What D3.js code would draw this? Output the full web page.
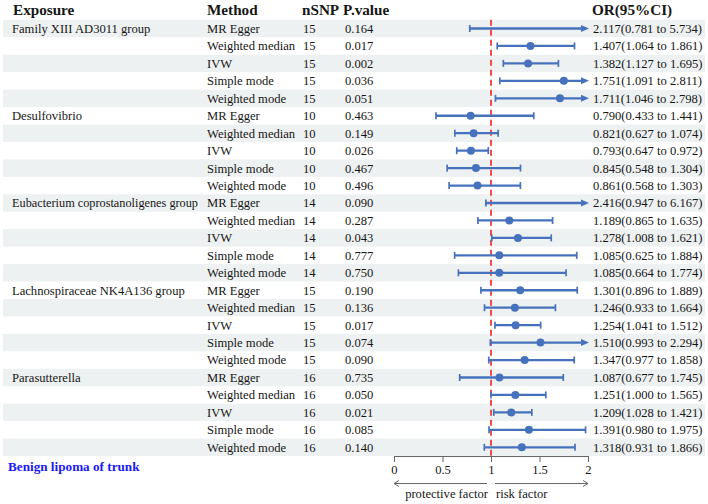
<!DOCTYPE html>
<html><head><meta charset="utf-8">
<script src="https://cdn.jsdelivr.net/npm/d3@7/dist/d3.min.js"></script>
<style>
html,body{margin:0;padding:0;background:#fff;}
svg{display:block;}
text{font-family:"Liberation Serif","Times New Roman",serif;}
</style></head>
<body>
<svg id="chart" width="708" height="504"></svg>
<script>
const exposures = ["Family XIII AD3011 group","Desulfovibrio","Eubacterium coprostanoligenes group","Lachnospiraceae NK4A136 group","Parasutterella"];
const methods = ["MR Egger","Weighted median","IVW","Simple mode","Weighted mode"];
const nsnp = [15,10,14,15,16];
const pvalues = ["0.164","0.017","0.002","0.036","0.051",
                 "0.463","0.149","0.026","0.467","0.496",
                 "0.090","0.287","0.043","0.777","0.750",
                 "0.190","0.136","0.017","0.074","0.090",
                 "0.735","0.050","0.021","0.085","0.140"];
const orVals = [2.117,1.407,1.382,1.751,1.711,
                0.790,0.821,0.793,0.845,0.861,
                2.416,1.189,1.278,1.085,1.085,
                1.301,1.246,1.254,1.510,1.347,
                1.087,1.251,1.209,1.391,1.318];
const lowerVals = [0.781,1.064,1.127,1.091,1.046,
                   0.433,0.627,0.647,0.548,0.568,
                   0.947,0.865,1.008,0.625,0.664,
                   0.896,0.933,1.041,0.993,0.977,
                   0.677,1.000,1.028,0.980,0.931];
const upperVals = [5.734,1.861,1.695,2.811,2.798,
                   1.441,1.074,0.972,1.304,1.303,
                   6.167,1.635,1.621,1.884,1.774,
                   1.889,1.664,1.512,2.294,1.858,
                   1.745,1.565,1.421,1.975,1.866];
const axisTicks = [0,0.5,1,1.5,2];
const headers = ["Exposure","Method","nSNP","P.value","OR(95%CI)"];
const outcome = "Benign lipoma of trunk";

const rows = orVals.map((v,i)=>({
  exposure: i%5===0 ? exposures[Math.floor(i/5)] : "",
  method: methods[i%5],
  n: nsnp[Math.floor(i/5)],
  p: pvalues[i],
  or: v, lo: lowerVals[i], hi: upperVals[i]
}));

const svg = d3.select("#chart");
const rowH = 17.45, row0 = 28.5;
const y = i => row0 + i*rowH;
const x = d3.scaleLinear().domain([0,2]).range([394,588]);
const blue = "#4672bd";
const fs = "12.6px";
const ink = "#161616";

// shading
svg.selectAll("rect.band").data(rows.filter((d,i)=>i%2===0)).enter()
  .append("rect").attr("x",3).attr("width",702)
  .attr("y",(d,k)=>y(k*2)-rowH/2).attr("height",rowH)
  .attr("fill","#eef1f1");

// headers
const hx = [13,207,302,343,592];
svg.selectAll("text.hdr").data(headers).enter().append("text")
  .attr("x",(d,i)=>hx[i]).attr("y",15).attr("font-size","15.2px")
  .attr("font-weight","bold").attr("fill",ink)
  .text(d=>d);

// text columns
const g = svg.append("g").attr("font-size",fs).attr("fill",ink);
rows.forEach((d,i)=>{
  const by = y(i)+4.4;
  const ex = g.append("text").attr("x",12).attr("y",by).text(d.exposure);
  if(d.exposure.length>32) ex.attr("textLength",186).attr("lengthAdjust","spacingAndGlyphs");
  g.append("text").attr("x",207).attr("y",by).text(d.method);
  g.append("text").attr("x",303).attr("y",by).text(d.n);
  g.append("text").attr("x",345).attr("y",by).text(d.p);
  g.append("text").attr("x",593).attr("y",by)
    .text(`${d.or.toFixed(3)}(${d.lo.toFixed(3)} to ${d.hi.toFixed(3)})`);
});

// reference line
svg.append("line").attr("x1",x(1)).attr("x2",x(1))
  .attr("y1",y(0)-rowH/2).attr("y2",y(rows.length-1)+rowH/2)
  .attr("stroke","#f03a3a").attr("stroke-width",1.8).attr("stroke-dasharray","6,4");

// CI bars
const bars = svg.append("g");
rows.forEach((d,i)=>{
  const cy = y(i);
  const x1 = x(Math.max(d.lo,0)), over = d.hi>2;
  const x2 = over ? x(2)-6 : x(d.hi);
  bars.append("line").attr("x1",x1).attr("x2",x2).attr("y1",cy).attr("y2",cy)
    .attr("stroke",blue).attr("stroke-width",2.3);
  bars.append("line").attr("x1",x1).attr("x2",x1).attr("y1",cy-3.5).attr("y2",cy+3.5)
    .attr("stroke",blue).attr("stroke-width",1.7);
  if(over){
    const tx = x(2)+1;
    bars.append("path").attr("d",`M${tx},${cy} L${tx-8},${cy-3.5} L${tx-8},${cy+3.5} Z`)
      .attr("fill",blue);
  } else {
    bars.append("line").attr("x1",x2).attr("x2",x2).attr("y1",cy-3.5).attr("y2",cy+3.5)
      .attr("stroke",blue).attr("stroke-width",1.7);
  }
  if(d.or<=2){
    bars.append("circle").attr("cx",x(d.or)).attr("cy",cy).attr("r",4).attr("fill",blue);
  }
});

// axis
const axisY = y(rows.length-1)+rowH/2;
const ax = svg.append("g").attr("transform",`translate(0,${axisY})`)
  .call(d3.axisBottom(x).tickValues(axisTicks).tickFormat(d3.format("")).tickSize(6).tickSizeOuter(0).tickPadding(3));
ax.selectAll("path,line").attr("stroke","#666");
ax.selectAll("text").attr("font-size",fs).attr("fill",ink)
  .attr("font-family","Liberation Serif, Times New Roman, serif");

// direction arrows
const ay = 483.5;
const arr = svg.append("g").attr("stroke","#666").attr("fill","none").attr("stroke-width",1);
arr.append("line").attr("x1",x(0)).attr("x2",x(1)-4).attr("y1",ay).attr("y2",ay);
arr.append("path").attr("d",`M${x(0)+5},${ay-3} L${x(0)},${ay} L${x(0)+5},${ay+3}`);
arr.append("line").attr("x1",x(1)+4).attr("x2",x(2)).attr("y1",ay).attr("y2",ay);
arr.append("path").attr("d",`M${x(2)-5},${ay-3} L${x(2)},${ay} L${x(2)-5},${ay+3}`);
svg.append("text").attr("x",x(1)-3).attr("y",497.5).attr("text-anchor","end")
  .attr("font-size",fs).attr("fill",ink).text("protective factor");
svg.append("text").attr("x",x(1)+5).attr("y",497.5)
  .attr("font-size",fs).attr("fill",ink).text("risk factor");

// outcome label
svg.append("text").attr("x",8).attr("y",470.5).attr("font-size","13.2px")
  .attr("font-weight","bold").attr("fill","#1a1af5").text(outcome);
</script>
</body></html>
